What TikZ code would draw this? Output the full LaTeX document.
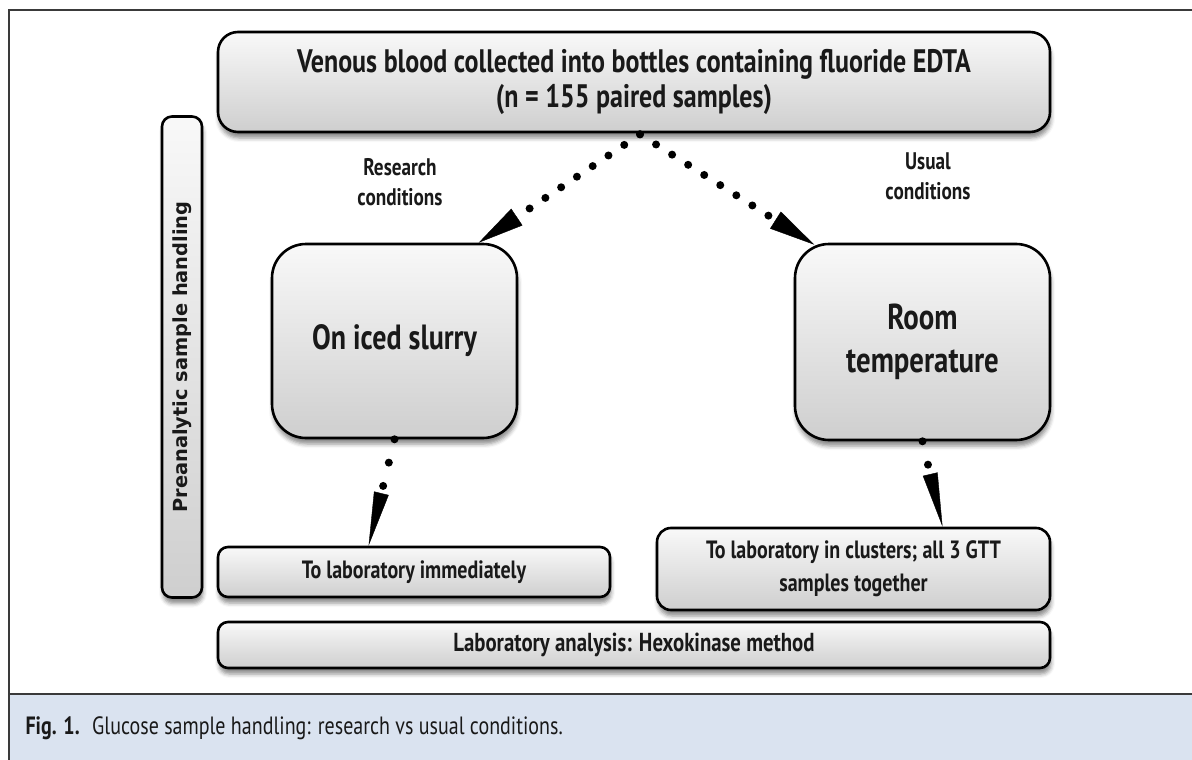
\documentclass[tikz,border=0pt]{standalone}
\usepackage{fontspec}
\setmainfont{PT Sans}
\newfontfamily\cond{PT Sans}[FakeStretch=0.8]
\newfontfamily\sidefont{DejaVu Sans}
\usetikzlibrary{shadows.blur,arrows.meta,calc}
\definecolor{capblue}{HTML}{DAE3F0}
\definecolor{framegray}{HTML}{3A3A3A}
\tikzset{
  box/.style={draw=black, line width=2.6pt, top color=gray!5, bottom color=gray!38,
    blur shadow={shadow xshift=1pt, shadow yshift=-6pt, shadow blur radius=4pt, shadow opacity=45},
    inner sep=0pt, align=center, text=black!90},
  lbl/.style={align=center, font=\cond\bfseries\fontsize{24}{30}\selectfont, text=black!90},
  dotsup/.style={line width=8pt, line cap=round, dash pattern=on 0pt off 19pt,
    -{Triangle[length=46pt,width=20pt,line width=0.4pt]}},
  dotsdown/.style={line width=8pt, line cap=round, dash pattern=on 0pt off 24pt,
    -{Triangle[length=54pt,width=15pt,line width=0.4pt]}},
}
\begin{document}
\begin{tikzpicture}[x=1pt,y=-1pt]
\useasboundingbox (0,0) rectangle (1192,760);
% caption band and frame
\fill[capblue] (9,694) rectangle (1192,760);
\draw[framegray, line width=2pt] (9,694) -- (1192,694);
\draw[framegray, line width=2.5pt] (1192,10) -- (9,10) -- (9,760);
\node[anchor=west, font=\cond\fontsize{25}{28}\selectfont, text=black!90] (cap) at (22,728)
  {\textbf{Fig. 1.}\enspace Glucose sample handling: research vs usual conditions.};
% boxes
\node[box, rounded corners=20pt, minimum width=832pt, minimum height=100pt,
  font=\cond\bfseries\fontsize{32.5}{35}\selectfont] (top) at (634,82)
  {Venous blood collected into bottles containing fluoride EDTA\\(n = 155 paired samples)};
\node[box, rounded corners=10pt, minimum width=40pt, minimum height=481pt] (side) at (182,357) {};
\node[rotate=90, font=\sidefont\bfseries\fontsize{19.4}{22}\selectfont, text=black!90] (sidetxt) at (side.center)
  {Preanalytic sample handling};
\node[box, rounded corners=34pt, minimum width=245pt, minimum height=194pt,
  font=\cond\bfseries\fontsize{35}{42}\selectfont] (iced) at (394.5,341) {On iced slurry};
\node[box, rounded corners=34pt, minimum width=255pt, minimum height=196pt,
  font=\cond\bfseries\fontsize{36}{43}\selectfont] (room) at (922.5,342) {Room\\temperature};
\node[box, rounded corners=10pt, minimum width=392pt, minimum height=50pt,
  font=\cond\bfseries\fontsize{25}{30}\selectfont] (imm) at (414,572) {To laboratory immediately};
\node[box, rounded corners=14pt, minimum width=393pt, minimum height=82pt,
  font=\cond\bfseries\fontsize{25}{33}\selectfont] (clu) at (853.5,569)
  {To laboratory in clusters; all 3 GTT\\samples together};
\node[box, rounded corners=10pt, minimum width=832pt, minimum height=46pt,
  font=\cond\bfseries\fontsize{26}{30}\selectfont] (lab) at (634,645) {Laboratory analysis: Hexokinase method};
% labels
\node[lbl] (research) at (400,182) {Research\\conditions};
\node[lbl] (usual) at (928,176) {Usual\\conditions};
% connectors
\coordinate (start) at ($(top.south)+(6,1)$);
\draw[dotsup] (start) -- ($(iced.north west)!0.84!(iced.north east)$);
\draw[dotsup] (start) -- ($(room.north west)!0.08!(room.north east)+(0,2)$);
\draw[dotsdown] (iced.south) -- ($(imm.north west)!0.385!(imm.north east)$);
\draw[dotsdown] (room.south) -- ($(clu.north west)!0.725!(clu.north east)$);
\end{tikzpicture}
\end{document}
